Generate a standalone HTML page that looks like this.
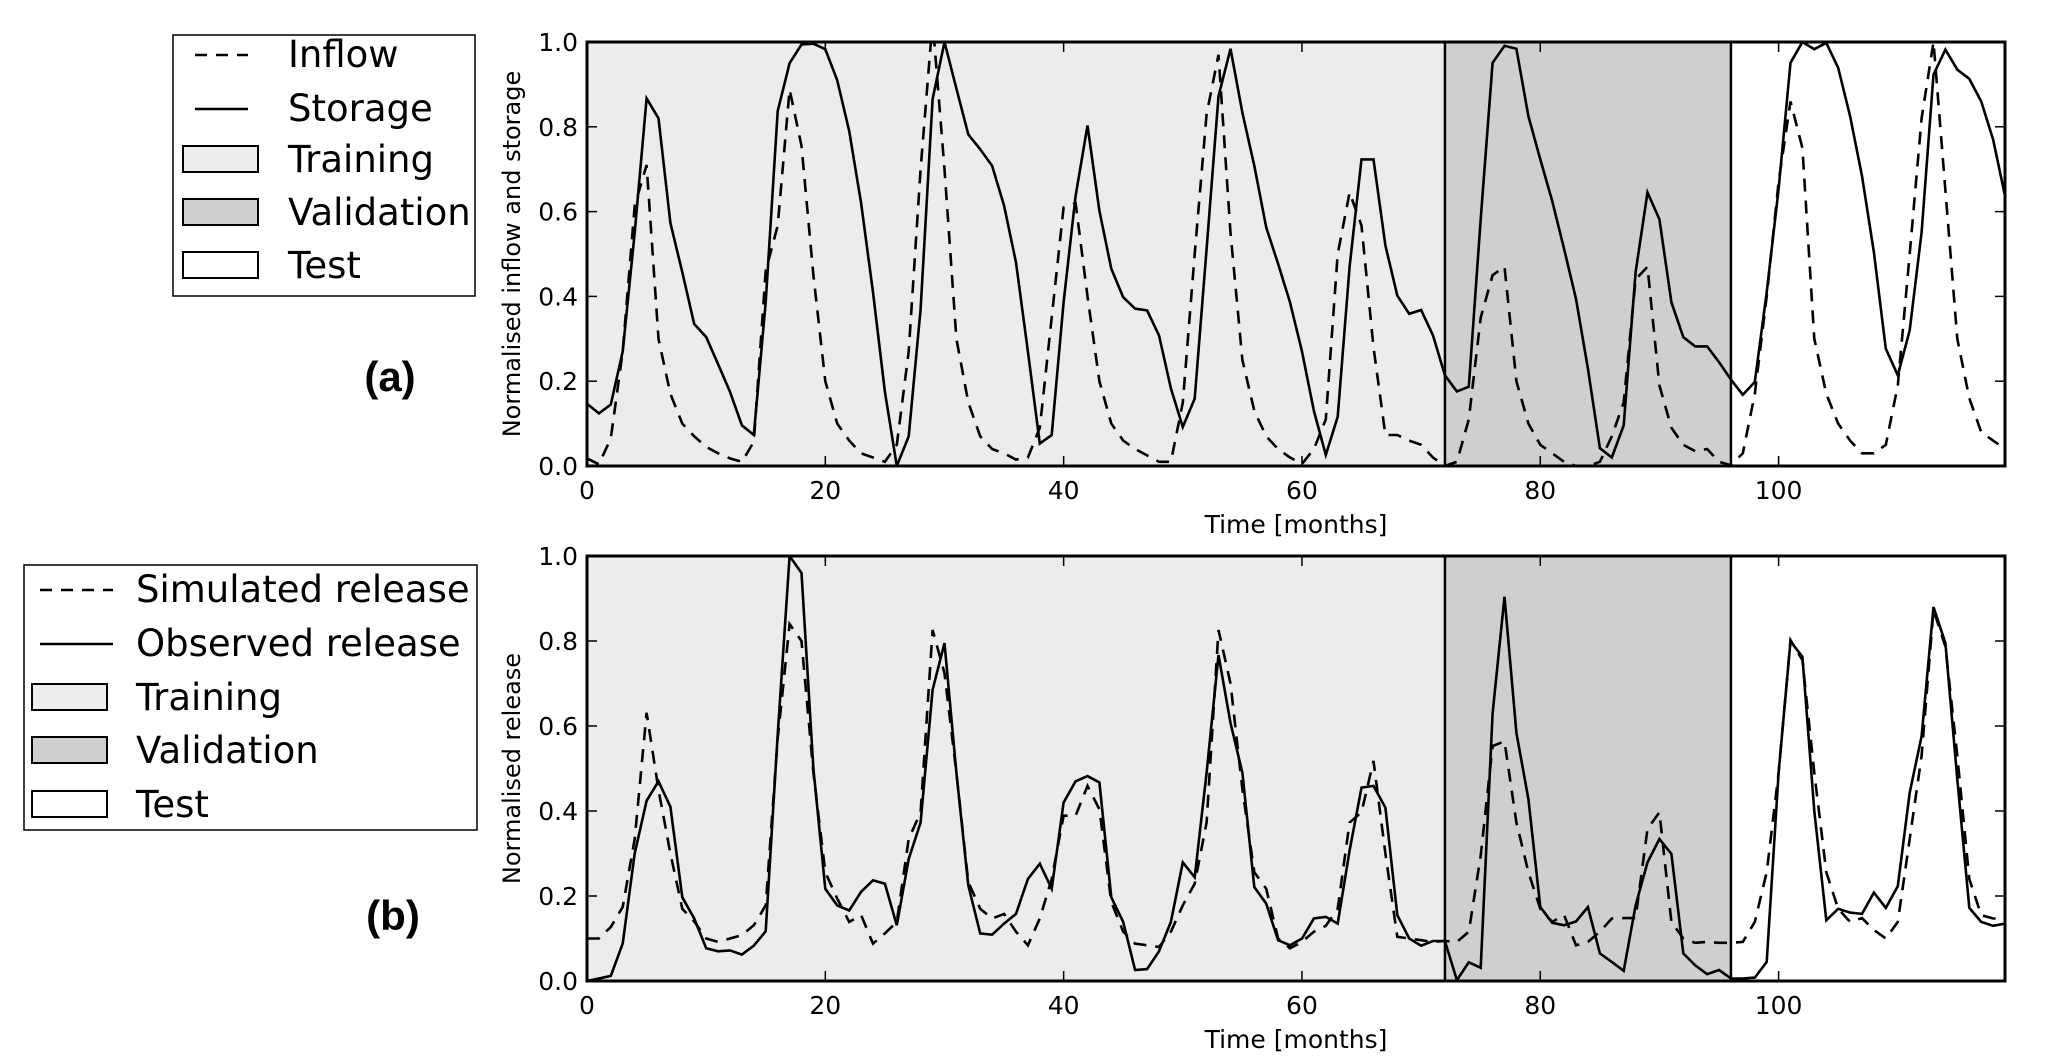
<!DOCTYPE html>
<html><head><meta charset="utf-8"><style>
html,body{margin:0;padding:0;background:#fff;}
svg{display:block;font-family:"DejaVu Sans","Liberation Sans",sans-serif;}
</style></head><body>
<svg id="fig" width="2067" height="1061" viewBox="0 0 2067 1061" xmlns="http://www.w3.org/2000/svg">
<g id="legA">
<rect x="173" y="35" width="302" height="261" fill="#fff" stroke="#000" stroke-width="1.5"/>
<line x1="195" y1="55" x2="248" y2="55" stroke="#000" stroke-width="2.5" stroke-dasharray="12,9"/>
<text x="288" y="67" font-size="37">Inflow</text>
<line x1="195" y1="109" x2="248" y2="109" stroke="#000" stroke-width="2.5"/>
<text x="288" y="121" font-size="37">Storage</text>
<rect x="183" y="146" width="75" height="26" fill="#ececec" stroke="#000" stroke-width="2"/>
<text x="288" y="172" font-size="37">Training</text>
<rect x="183" y="199" width="75" height="26" fill="#cfcfcf" stroke="#000" stroke-width="2"/>
<text x="288" y="225" font-size="37">Validation</text>
<rect x="183" y="252" width="75" height="26" fill="#fff" stroke="#000" stroke-width="2"/>
<text x="288" y="278" font-size="37">Test</text>
</g>
<text x="390" y="391" font-size="42" font-weight="bold" text-anchor="middle" font-family="Liberation Sans, sans-serif">(a)</text>
<g id="legB">
<rect x="24" y="565" width="453" height="265" fill="#fff" stroke="#000" stroke-width="1.5"/>
<line x1="40" y1="590" x2="113" y2="590" stroke="#000" stroke-width="2.5" stroke-dasharray="12,9"/>
<text x="136" y="602" font-size="37">Simulated release</text>
<line x1="40" y1="644" x2="113" y2="644" stroke="#000" stroke-width="2.5"/>
<text x="136" y="656" font-size="37">Observed release</text>
<rect x="32" y="684" width="75" height="26" fill="#ececec" stroke="#000" stroke-width="2"/>
<text x="136" y="710" font-size="37">Training</text>
<rect x="32" y="737" width="75" height="26" fill="#cfcfcf" stroke="#000" stroke-width="2"/>
<text x="136" y="763" font-size="37">Validation</text>
<rect x="32" y="791" width="75" height="26" fill="#fff" stroke="#000" stroke-width="2"/>
<text x="136" y="817" font-size="37">Test</text>
</g>
<text x="393" y="930" font-size="42" font-weight="bold" text-anchor="middle" font-family="Liberation Sans, sans-serif">(b)</text>
</svg>
<script>
const months = Array.from({length:120},(_, i)=>i);
const xTicks = [0,20,40,60,80,100];
const yTicks = [0.0,0.2,0.4,0.6,0.8,1.0];
const yTickLabels = ["0.0","0.2","0.4","0.6","0.8","1.0"];
const splitTrainEnd = 72;
const splitValEnd = 96;
const storage = [0.147,0.124,0.145,0.27,0.55,0.867,0.82,0.573,0.457,0.335,0.304,0.24,0.175,0.096,0.073,0.386,0.837,0.95,0.994,0.996,0.983,0.91,0.79,0.62,0.41,0.175,0.0,0.07,0.37,0.865,1.0,0.89,0.782,0.747,0.708,0.614,0.48,0.27,0.053,0.073,0.386,0.637,0.803,0.602,0.465,0.398,0.371,0.367,0.308,0.183,0.092,0.159,0.512,0.872,0.984,0.833,0.708,0.563,0.477,0.386,0.27,0.13,0.026,0.116,0.47,0.723,0.723,0.52,0.402,0.359,0.368,0.308,0.214,0.176,0.187,0.582,0.951,0.991,0.984,0.825,0.723,0.625,0.512,0.394,0.23,0.042,0.02,0.096,0.457,0.645,0.582,0.386,0.304,0.282,0.282,0.245,0.204,0.168,0.198,0.41,0.653,0.951,1.0,0.983,0.998,0.939,0.825,0.684,0.504,0.277,0.214,0.32,0.551,0.923,0.982,0.935,0.913,0.86,0.77,0.637];
const inflow = [0.018,0.004,0.065,0.27,0.614,0.71,0.3,0.17,0.1,0.07,0.045,0.03,0.018,0.01,0.057,0.46,0.567,0.888,0.755,0.45,0.2,0.1,0.06,0.03,0.02,0.01,0.05,0.27,0.7,1.05,0.7,0.3,0.15,0.07,0.04,0.03,0.015,0.02,0.09,0.35,0.61,0.62,0.4,0.2,0.1,0.06,0.04,0.025,0.01,0.01,0.15,0.5,0.83,0.97,0.55,0.25,0.13,0.07,0.04,0.02,0.005,0.04,0.11,0.5,0.645,0.567,0.28,0.073,0.073,0.06,0.05,0.02,0.0,0.01,0.11,0.35,0.45,0.47,0.2,0.1,0.05,0.03,0.01,0.0,0.0,0.01,0.07,0.15,0.44,0.47,0.19,0.09,0.05,0.035,0.04,0.01,0.002,0.03,0.17,0.4,0.67,0.86,0.75,0.3,0.17,0.1,0.06,0.03,0.03,0.05,0.19,0.5,0.82,1.0,0.65,0.3,0.16,0.08,0.06,0.04];
const observed = [0,0.006,0.012,0.088,0.3,0.424,0.47,0.41,0.197,0.147,0.077,0.07,0.072,0.062,0.083,0.117,0.58,1.0,0.96,0.5,0.217,0.178,0.166,0.21,0.237,0.229,0.131,0.287,0.373,0.685,0.795,0.49,0.225,0.112,0.109,0.135,0.158,0.24,0.276,0.217,0.42,0.47,0.482,0.467,0.197,0.139,0.026,0.028,0.07,0.139,0.279,0.244,0.49,0.767,0.607,0.49,0.221,0.182,0.096,0.084,0.1,0.147,0.151,0.135,0.307,0.455,0.459,0.408,0.155,0.1,0.083,0.094,0.094,0.002,0.044,0.031,0.63,0.904,0.584,0.428,0.174,0.137,0.131,0.14,0.174,0.065,0.045,0.024,0.178,0.279,0.334,0.299,0.065,0.037,0.016,0.026,0.006,0.006,0.008,0.045,0.49,0.799,0.763,0.4,0.143,0.17,0.161,0.158,0.208,0.172,0.223,0.443,0.576,0.88,0.795,0.475,0.172,0.139,0.13,0.135];
const simulated = [0.1,0.1,0.127,0.174,0.334,0.631,0.45,0.3,0.17,0.14,0.1,0.092,0.1,0.108,0.131,0.178,0.57,0.84,0.8,0.49,0.256,0.194,0.139,0.155,0.088,0.112,0.139,0.334,0.397,0.826,0.724,0.49,0.233,0.17,0.147,0.158,0.116,0.084,0.147,0.24,0.389,0.389,0.459,0.404,0.186,0.116,0.088,0.084,0.08,0.116,0.178,0.229,0.373,0.826,0.7,0.451,0.256,0.217,0.1,0.077,0.092,0.116,0.13,0.17,0.373,0.397,0.518,0.3,0.104,0.1,0.096,0.092,0.094,0.092,0.116,0.295,0.553,0.564,0.373,0.256,0.17,0.139,0.155,0.084,0.092,0.116,0.147,0.148,0.148,0.358,0.397,0.139,0.1,0.09,0.092,0.09,0.09,0.092,0.139,0.256,0.49,0.802,0.755,0.49,0.256,0.17,0.139,0.148,0.12,0.1,0.139,0.334,0.53,0.873,0.787,0.53,0.24,0.155,0.147,0.147];

const NS="http://www.w3.org/2000/svg";
const svg=document.getElementById('fig');
function mk(tag,attrs,parent){const e=document.createElementNS(NS,tag);for(const k in attrs)e.setAttribute(k,attrs[k]);(parent||svg).appendChild(e);return e;}

function panel(top,bottom,key,yTitle,solidData,dashData,solidName,dashName){
  const L=587,R=2005,XMAX=119;
  const xs=m=>L+(R-L)*m/XMAX;
  const ys=v=>bottom-(bottom-top)*v;
  const g=mk('g',{});
  
  
  const cp=mk('clipPath',{id:'clip-'+key},g);
  mk('rect',{x:L,y:top,width:R-L,height:bottom-top},cp);
  const r1=mk('rect',{x:xs(0),y:top,width:xs(splitTrainEnd)-xs(0),height:bottom-top,fill:'#ececec'},g);
  
  
  const r2=mk('rect',{x:xs(splitTrainEnd),y:top,width:xs(splitValEnd)-xs(splitTrainEnd),height:bottom-top,fill:'#cfcfcf',stroke:'#000','stroke-width':2.5},g);
  
  
  const toPts=d=>d.map((v,i)=>xs(months[i]).toFixed(1)+','+ys(v).toFixed(1)).join(' ');
  const s=mk('polyline',{points:toPts(solidData),fill:'none',stroke:'#000','stroke-width':2.6,'stroke-linejoin':'miter','clip-path':'url(#clip-'+key+')'},g);
  
  
  const d=mk('polyline',{points:toPts(dashData),fill:'none',stroke:'#000','stroke-width':2.6,'stroke-dasharray':'13,9','clip-path':'url(#clip-'+key+')'},g);
  
  
  const fr=mk('rect',{x:L,y:top,width:R-L,height:bottom-top,fill:'none',stroke:'#000','stroke-width':3},g);
  
  
  xTicks.forEach(t=>{
    const x=xs(t);
    mk('line',{x1:x,y1:bottom,x2:x,y2:bottom-10,stroke:'#000','stroke-width':1.5},g);
    mk('line',{x1:x,y1:top,x2:x,y2:top+10,stroke:'#000','stroke-width':1.5},g);
    const tl=mk('text',{x:x,y:bottom+33,'font-size':25,'text-anchor':'middle'},g);
    tl.textContent=String(t);
    
    
  });
  yTicks.forEach((t,i)=>{
    const y=ys(t);
    mk('line',{x1:L,y1:y,x2:L+10,y2:y,stroke:'#000','stroke-width':1.5},g);
    mk('line',{x1:R,y1:y,x2:R-10,y2:y,stroke:'#000','stroke-width':1.5},g);
    const tl=mk('text',{x:L-9,y:y+9,'font-size':25,'text-anchor':'end'},g);
    tl.textContent=yTickLabels[i];
    
    
  });
  const xt=mk('text',{x:(L+R)/2,y:bottom+67,'font-size':25,'text-anchor':'middle'},g);
  xt.textContent='Time [months]';
  
  
  const cy=(top+bottom)/2;
  const yt=mk('text',{x:520,y:cy,'font-size':24,'text-anchor':'middle',transform:'rotate(-90 520 '+cy+')'},g);
  yt.textContent=yTitle;
  
  
}
panel(42,466,'panel-a','Normalised inflow and storage',storage,inflow,'storage-line','inflow-line');
panel(556,981,'panel-b','Normalised release',observed,simulated,'observed-release-line','simulated-release-line');
</script>
</body></html>
